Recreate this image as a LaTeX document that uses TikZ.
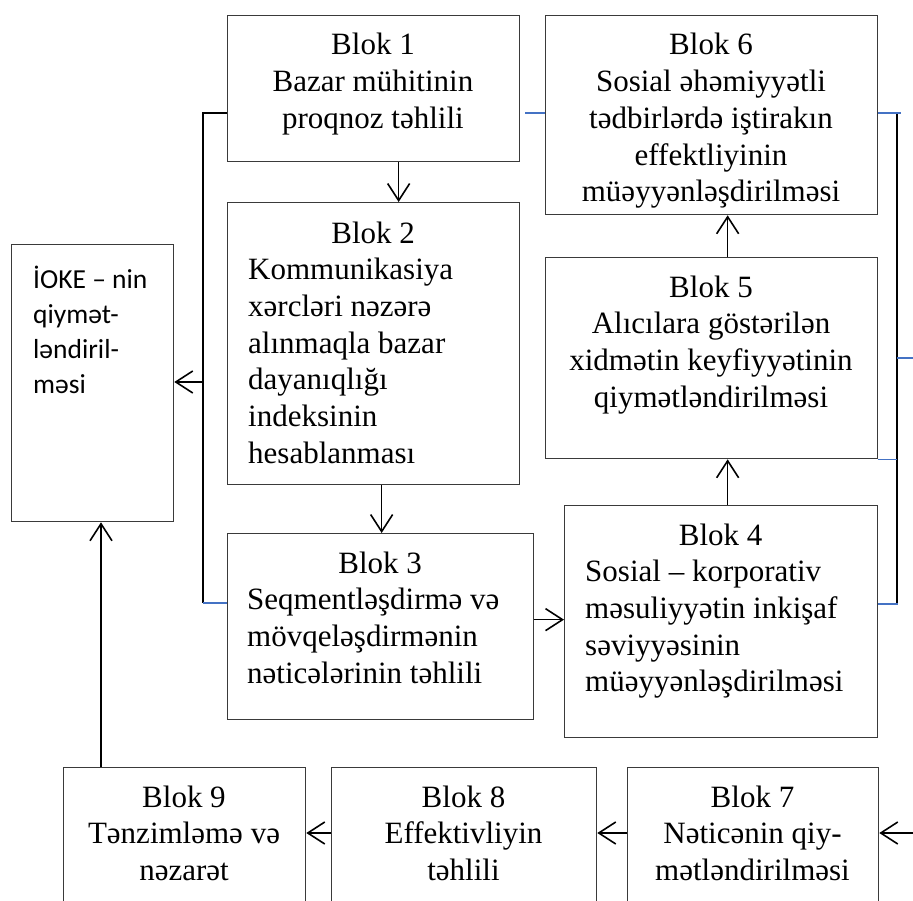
\documentclass[tikz,border=0pt]{standalone}
\usepackage{fontspec}
\setmainfont{Liberation Serif}
\newfontfamily\calfont{Carlito}
\usetikzlibrary{arrows.meta}
\definecolor{bluel}{HTML}{4472C4}
\definecolor{boxc}{HTML}{3A3A3A}
\tikzset{
  blk/.style={draw=boxc, line width=1.3pt, inner sep=0pt, anchor=north west},
  conn/.style={line width=1.6pt, -{Straight Barb[length=17pt,width=22pt]}},
  plainline/.style={line width=1.6pt},
  bl/.style={draw=bluel, line width=1.6pt},
  tx/.style={font=\fontsize{31}{36.7}\selectfont, inner sep=0pt, anchor=base},
  txl/.style={font=\fontsize{31}{36.7}\selectfont, inner sep=0pt, anchor=base west, align=left},
}
\begin{document}
\begin{tikzpicture}[x=1pt,y=-1pt]
\useasboundingbox (0,0) rectangle (913,901);
\fill[white] (0,0) rectangle (913,901);
\clip (0,0) rectangle (913,901);

% boxes
\node[blk, minimum width=162pt, minimum height=277pt] (ioke) at (11,244) {};
\node[blk, minimum width=292pt, minimum height=146pt] (b1) at (227,15) {};
\node[blk, minimum width=292pt, minimum height=282pt] (b2) at (227,202) {};
\node[blk, minimum width=306pt, minimum height=186pt] (b3) at (227,533) {};
\node[blk, minimum width=313pt, minimum height=232pt] (b4) at (564,505) {};
\node[blk, minimum width=332pt, minimum height=201pt] (b5) at (545,257) {};
\node[blk, minimum width=332pt, minimum height=199pt] (b6) at (545,15) {};
\node[blk, minimum width=251pt, minimum height=160pt] (b7) at (627,767) {};
\node[blk, minimum width=265pt, minimum height=160pt] (b8) at (331,767) {};
\node[blk, minimum width=242pt, minimum height=160pt] (b9) at (63,767) {};

% texts (anchor base = baseline of last line)
\node[tx, align=center] (t1) at (373,128.4) {Blok 1\\Bazar mühitinin\\proqnoz təhlili};
\node[txl] (t2) at (248,463.2) {\makebox[250pt]{Blok 2}\\Kommunikasiya\\xərcləri nəzərə\\alınmaqla bazar\\dayanıqlığı\\indeksinin\\hesablanması};
\node[txl] (t3) at (247,683.1) {\makebox[266pt]{Blok 3}\\Seqmentləşdirmə və\\mövqeləşdirmənin\\nəticələrinin təhlili};
\node[txl] (t4) at (585,691.8) {\makebox[271pt]{Blok 4}\\Sosial – korporativ\\məsuliyyətin inkişaf\\səviyyəsinin\\müəyyənləşdirilməsi};
\node[tx, align=center] (t5) at (711,407.1) {Blok 5\\Alıcılara göstərilən\\xidmətin keyfiyyətinin\\qiymətləndirilməsi};
\node[tx, align=center] (t6) at (711,201.8) {Blok 6\\Sosial əhəmiyyətli\\tədbirlərdə iştirakın\\effektliyinin\\müəyyənləşdirilməsi};
\node[tx, align=center] (t7) at (752.5,880.4) {Blok 7\\Nəticənin qiy-\\mətləndirilməsi};
\node[tx, align=center] (t8) at (463.5,880.4) {Blok 8\\Effektivliyin\\təhlili};
\node[tx, align=center] (t9) at (184,880.4) {Blok 9\\Tənzimləmə və\\nəzarət};
\node[inner sep=0pt, anchor=base west, align=left, font=\calfont\fontsize{27.5}{35}\selectfont] (ti) at (33,393) {İOKE – nin\\qiymət-\\ləndiril-\\məsi};

% coordinates
\coordinate (lt) at (203,113);
\coordinate (lm) at (203,382);
\coordinate (lb) at (203,603);
\coordinate (bt) at (525,113);
\coordinate (rt) at (897,113);
\coordinate (rtx) at (901,113);
\coordinate (rm) at (897,358);
\coordinate (rme) at (913,358);
\coordinate (rb) at (897,604);
\coordinate (be) at (913,833);

% vertical chain
\draw[conn] ([xshift=25pt]b1.south) -- ([xshift=25pt]b2.north);
\draw[conn] ([xshift=8pt]b2.south) -- ([xshift=8pt]b2.south |- b3.north);
\draw[conn] ([yshift=7pt]b3.east) -- ([yshift=7pt]b3.east -| b4.west);
\draw[conn] ([xshift=6.5pt]b4.north) -- ([xshift=6.5pt]b4.north |- b5.south);
\draw[conn] ([xshift=16pt]b5.north) -- ([xshift=16pt]b5.north |- b6.south);

% left bus
\draw[plainline] (lt -| b1.west) -- (lt) -- (lb);
\draw[bl] (lb) -- (lb -| b3.west);
\draw[conn] (lm) -- (lm -| ioke.east);

% right bus
\draw[plainline] (rt) -- (rb);
\draw[bl] (bt) -- (bt -| b6.west);
\draw[bl] (rt -| b6.east) -- (rtx);
\draw[bl] (b5.south east) -- (b5.south east -| rt);
\draw[bl] (rm) -- (rme);
\draw[bl] (rb -| b4.east) -- ([xshift=1pt]rb);

% bottom row
\draw[conn] (be) -- (be -| b7.east);
\draw[conn] (be -| b7.west) -- (be -| b8.east);
\draw[conn] (be -| b8.west) -- (be -| b9.east);
\draw[conn] ([xshift=38pt]b9.north west) -- ([xshift=38pt]b9.north west |- ioke.south);
\end{tikzpicture}
\end{document}
